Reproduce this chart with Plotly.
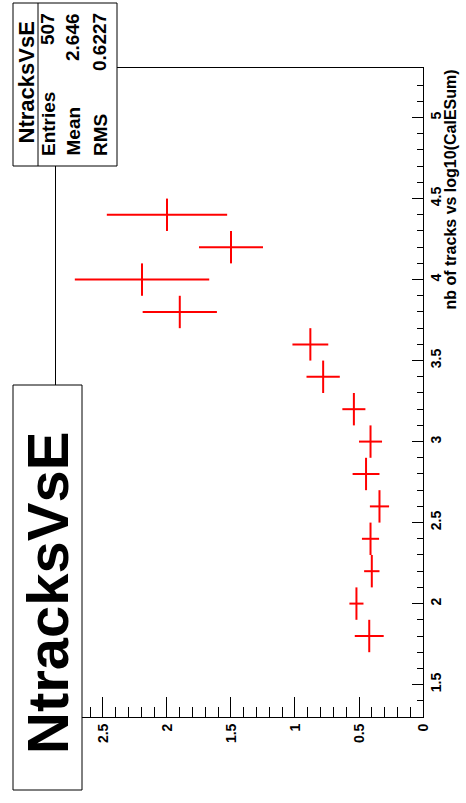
import plotly.graph_objects as go

# ---- data ----
log10_calesum = [1.8, 2.0, 2.2, 2.4, 2.6, 2.8, 3.0, 3.2, 3.4, 3.6, 3.8, 4.0, 4.2, 4.4]
nb_tracks = [0.42, 0.52, 0.40, 0.41, 0.34, 0.445, 0.41, 0.54, 0.78, 0.88, 1.90, 2.195, 1.50, 2.00]
nb_tracks_err = [0.113, 0.055, 0.06, 0.067, 0.075, 0.105, 0.09, 0.09, 0.13, 0.14, 0.29, 0.525, 0.25, 0.47]
bin_half_width = 0.1

stats_labels = ["Entries", "Mean", "RMS"]
stats_values = ["507", "2.646", "0.6227"]
hist_name = "NtracksVsE"
axis_title = "nb of tracks vs log10(CalESum)"

# ---- layout geometry (pixels) ----
WIDTH, HEIGHT = 466, 803
L, R, T, B = 56, 423, 68, 717
PW, PH = R - L, B - T


def px(x):
    return (x - L) / PW


def py(y):
    return (B - y) / PH


FONT = "Liberation Sans, Arial, Helvetica, sans-serif"

fig = go.Figure()
fig.add_trace(go.Scatter(
    x=nb_tracks, y=log10_calesum, mode="markers",
    marker=dict(size=0, color="red", opacity=0),
    error_x=dict(type="data", array=nb_tracks_err, symmetric=True,
                 color="#ff0000", thickness=2, width=0),
    error_y=dict(type="constant", value=bin_half_width,
                 color="#ff0000", thickness=2, width=0),
    showlegend=False, hoverinfo="skip",
))

axis_font = dict(family=FONT, size=14, color="black", weight="bold")

fig.update_xaxes(
    range=[2.867, 0], autorange=False,
    showline=True, linecolor="black", linewidth=1, mirror=True,
    showgrid=False, zeroline=False,
    ticks="inside", ticklen=20, tickwidth=1, tickcolor="black",
    dtick=0.5, tick0=0, tickangle=-90, tickfont=axis_font,
    minor=dict(dtick=0.1, ticks="inside", ticklen=10, tickwidth=1, tickcolor="black", showgrid=False),
)
fig.update_yaxes(
    range=[1.3, 5.306], autorange=False, side="right",
    showline=True, linecolor="black", linewidth=1, mirror=True,
    showgrid=False, zeroline=False,
    ticks="inside", ticklen=11, tickwidth=1, tickcolor="black",
    dtick=0.5, tick0=0, tickangle=-90, tickfont=axis_font,
    minor=dict(dtick=0.1, ticks="inside", ticklen=6, tickwidth=1, tickcolor="black", showgrid=False),
)

shapes = []
# stats box
shapes.append(dict(type="rect", xref="paper", yref="paper",
                   x0=px(13), x1=px(117), y0=py(166), y1=py(3),
                   fillcolor="white", line=dict(color="black", width=1), layer="above"))
shapes.append(dict(type="line", xref="paper", yref="paper",
                   x0=px(38), x1=px(38), y0=py(166), y1=py(3),
                   line=dict(color="black", width=1), layer="above"))
# title box
shapes.append(dict(type="rect", xref="paper", yref="paper",
                   x0=px(13), x1=px(82), y0=py(790), y1=py(385),
                   fillcolor="white", line=dict(color="black", width=1), layer="above"))

annotations = []
# big title
annotations.append(dict(text=hist_name, xref="paper", yref="paper",
                        x=px(47), y=py(593), xanchor="center", yanchor="middle",
                        textangle=-90, showarrow=False,
                        font=dict(family=FONT, size=58, color="black", weight="bold")))
# stats title
annotations.append(dict(text=hist_name, xref="paper", yref="paper",
                        x=px(25.5), y=py(83), xanchor="center", yanchor="middle",
                        textangle=-90, showarrow=False,
                        font=dict(family=FONT, size=22, color="black", weight="bold")))
row_x = [48, 73, 100]
for lab, val, rx in zip(stats_labels, stats_values, row_x):
    annotations.append(dict(text=lab, xref="paper", yref="paper",
                            x=px(rx), y=py(158), xanchor="center", yanchor="bottom",
                            textangle=-90, showarrow=False,
                            font=dict(family=FONT, size=19, color="black", weight="bold")))
    annotations.append(dict(text=val, xref="paper", yref="paper",
                            x=px(rx), y=py(11), xanchor="center", yanchor="top",
                            textangle=-90, showarrow=False,
                            font=dict(family=FONT, size=19, color="black", weight="bold")))
# axis title
annotations.append(dict(text=axis_title, xref="paper", yref="paper",
                        x=px(440), y=py(67), xanchor="left", yanchor="top",
                        textangle=-90, showarrow=False,
                        font=dict(family=FONT, size=16, color="black", weight="bold")))

fig.update_layout(
    width=WIDTH, height=HEIGHT,
    margin=dict(l=L, r=WIDTH - R, t=T, b=HEIGHT - B, pad=0),
    paper_bgcolor="white", plot_bgcolor="white",
    shapes=shapes, annotations=annotations,
    font=dict(family=FONT),
)

fig.write_html(
    "out.html",
    config={"displayModeBar": False},
    post_script="document.body.style.margin='0';document.body.style.padding='0';"
                "document.documentElement.style.overflow='hidden';",
)
